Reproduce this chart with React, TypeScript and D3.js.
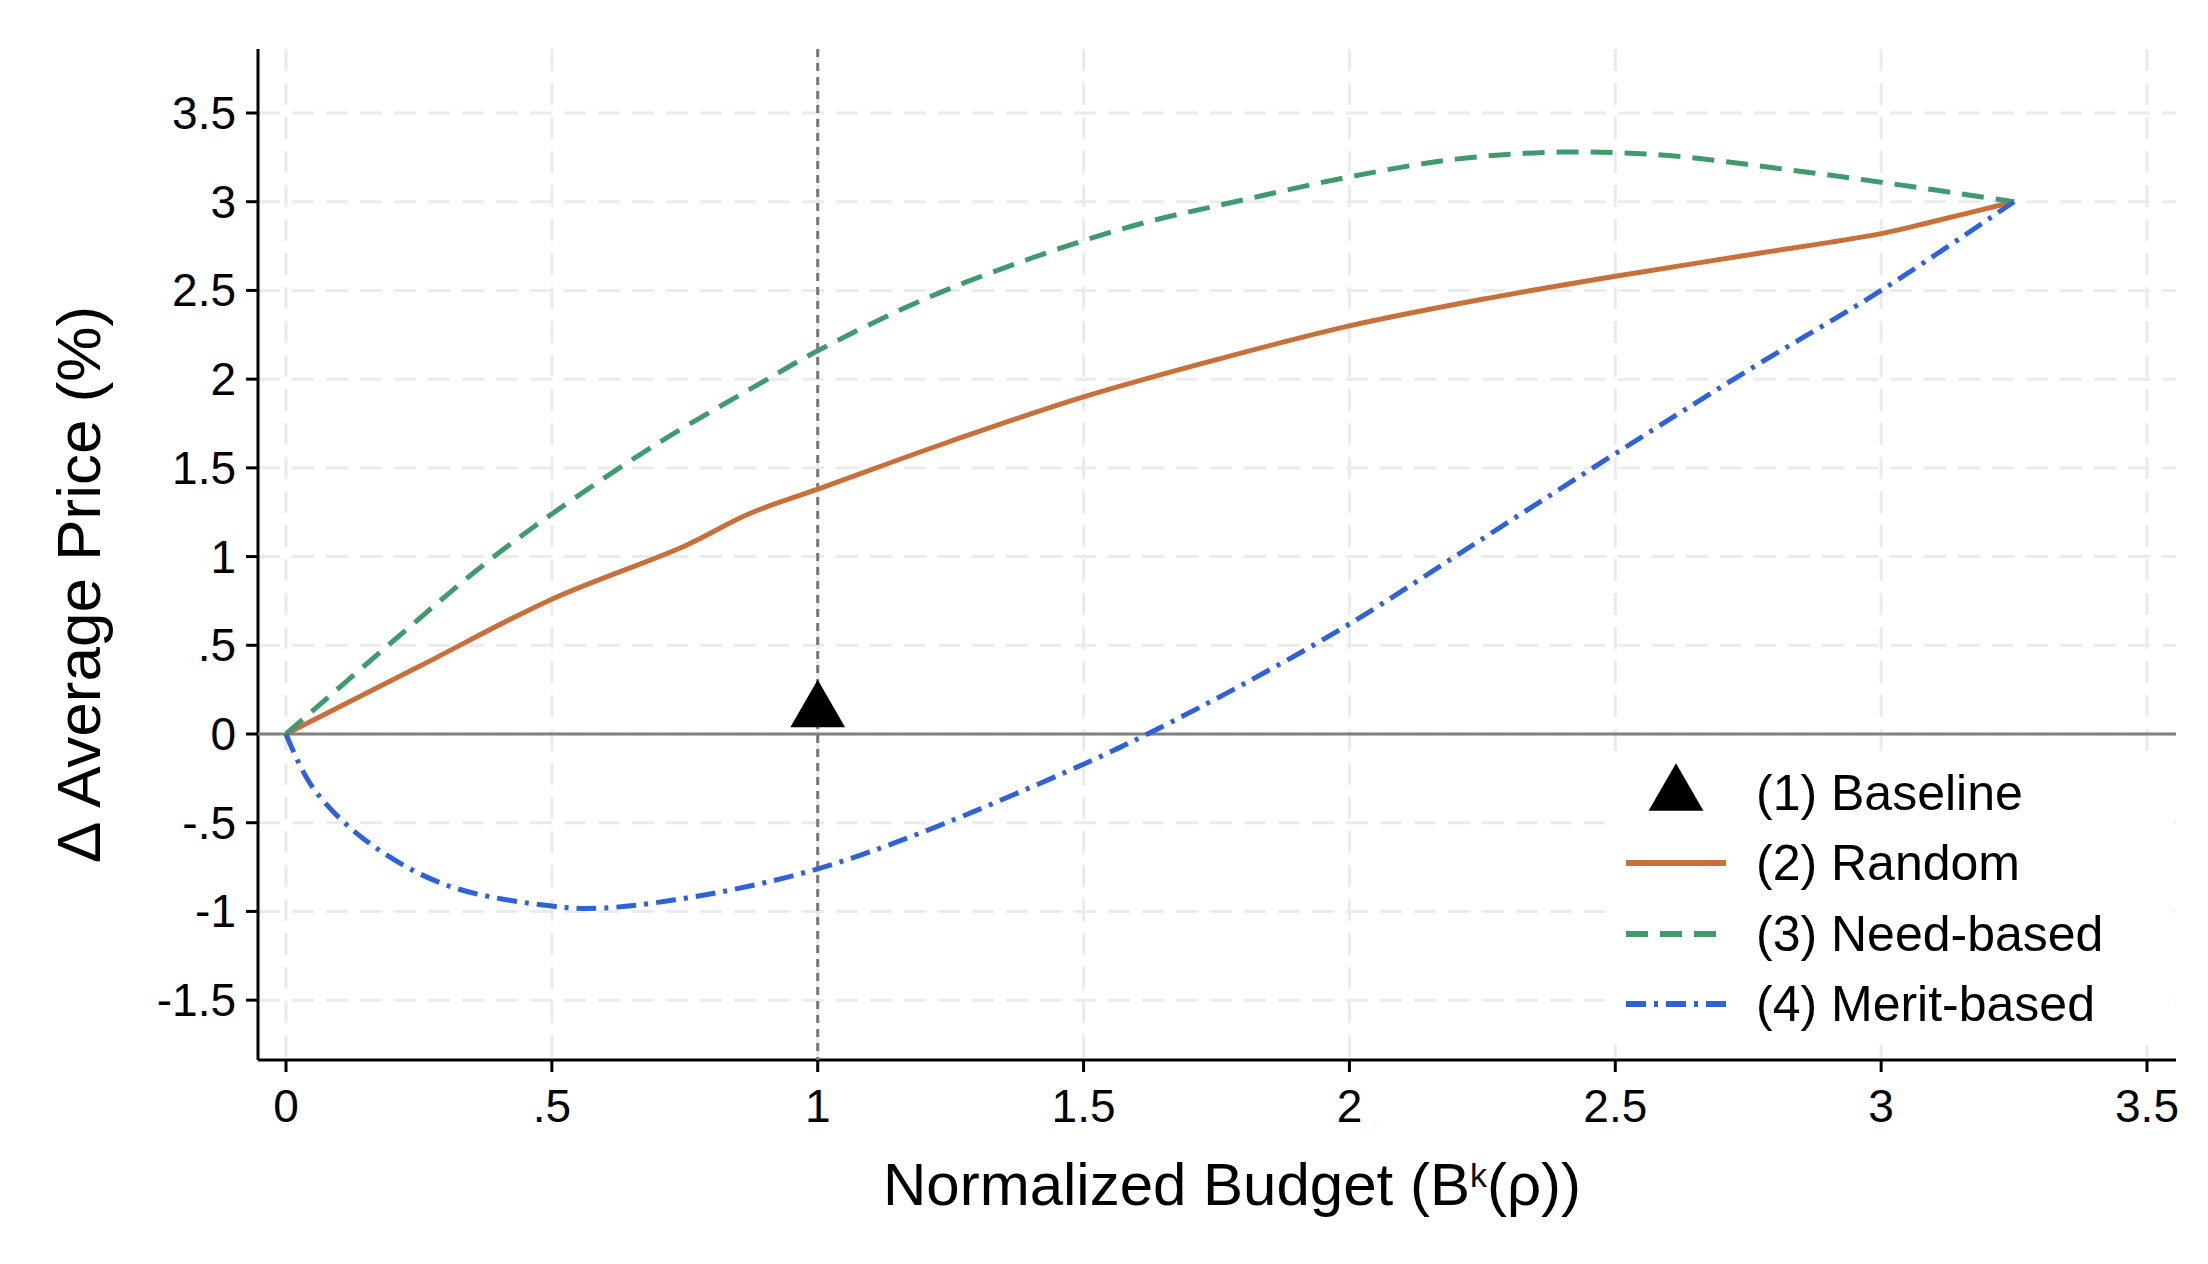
import React, { useRef, useEffect } from "react";
import * as d3 from "d3";

const randomX = [0, 0.25, 0.5, 0.75, 0.87, 1, 1.25, 1.5, 1.75, 2, 2.25, 2.5, 2.75, 3, 3.1, 3.25];
const randomY = [0, 0.38, 0.76, 1.06, 1.24, 1.38, 1.65, 1.9, 2.11, 2.3, 2.45, 2.58, 2.7, 2.82, 2.89, 3];
const needX = [0, 0.2, 0.37, 0.5, 0.7, 0.9, 1, 1.2, 1.4, 1.6, 1.8, 2, 2.2, 2.4, 2.6, 2.8, 3, 3.25];
const needY = [0, 0.52, 0.95, 1.24, 1.64, 1.99, 2.16, 2.45, 2.68, 2.87, 3.01, 3.14, 3.24, 3.28, 3.26, 3.19, 3.11, 3];
const meritX = [0, 0.05, 0.15, 0.3, 0.5, 0.6, 0.8, 1, 1.2, 1.5, 1.62, 1.8, 2, 2.25, 2.5, 2.75, 3, 3.25];
const meritY = [0, -0.3, -0.6, -0.85, -0.97, -0.98, -0.9, -0.76, -0.55, -0.17, 0, 0.28, 0.62, 1.1, 1.58, 2.05, 2.5, 3];
const baseline = { x: 1, y: 0.15 };
const xTicks = [0, 0.5, 1, 1.5, 2, 2.5, 3, 3.5];
const yTicks = [-1.5, -1, -0.5, 0, 0.5, 1, 1.5, 2, 2.5, 3, 3.5];
const legendLabels = ["(1) Baseline", "(2) Random", "(3) Need-based", "(4) Merit-based"];

const fmt = (v: number) => String(v).replace(/^(-?)0\./, "$1.");

export default function App() {
  const ref = useRef<SVGSVGElement | null>(null);

  useEffect(() => {
    const svg = d3.select(ref.current!);
    svg.selectAll("*").remove();
    const W = 2208, H = 1264;
    const font = "'Liberation Sans', Arial, sans-serif";

    const x = d3.scaleLinear().domain([0, 3.5]).range([286, 2147]);
    const y = d3.scaleLinear().domain([0, 3.5]).range([734, 113]);
    const left = 258, right = 2176, top = 49, bottom = 1060;

    svg.append("rect").attr("width", W).attr("height", H).attr("fill", "white");
    svg.append("line").attr("x1", 0).attr("x2", W).attr("y1", 1).attr("y2", 1).attr("stroke", "#ddd").attr("stroke-width", 2);

    // grid
    xTicks.forEach((t) => svg.append("line").attr("x1", x(t)).attr("x2", x(t)).attr("y1", top).attr("y2", bottom)
      .attr("stroke", "#ebebeb").attr("stroke-width", 3).attr("stroke-dasharray", "22,12"));
    yTicks.forEach((t) => svg.append("line").attr("x1", left).attr("x2", right).attr("y1", y(t)).attr("y2", y(t))
      .attr("stroke", "#ebebeb").attr("stroke-width", 3).attr("stroke-dasharray", "22,12"));

    // legend background hides grid
    svg.append("rect").attr("x", 1605).attr("y", 755).attr("width", 570).attr("height", 290).attr("fill", "white");

    // axes
    svg.append("line").attr("x1", left).attr("x2", left).attr("y1", top).attr("y2", bottom).attr("stroke", "black").attr("stroke-width", 3);
    svg.append("line").attr("x1", left).attr("x2", right).attr("y1", bottom).attr("y2", bottom).attr("stroke", "black").attr("stroke-width", 3);
    xTicks.forEach((t) => {
      svg.append("line").attr("x1", x(t)).attr("x2", x(t)).attr("y1", bottom).attr("y2", bottom + 12).attr("stroke", "black").attr("stroke-width", 3);
      svg.append("text").attr("x", x(t)).attr("y", bottom + 62).attr("text-anchor", "middle")
        .style("font-family", font).style("font-size", "46px").text(fmt(t));
    });
    yTicks.forEach((t) => {
      svg.append("line").attr("x1", left - 12).attr("x2", left).attr("y1", y(t)).attr("y2", y(t)).attr("stroke", "black").attr("stroke-width", 3);
      svg.append("text").attr("x", left - 22).attr("y", y(t) + 16).attr("text-anchor", "end")
        .style("font-family", font).style("font-size", "46px").text(fmt(t));
    });

    const xt = svg.append("text").attr("x", (left + right) / 2 + 15).attr("y", 1205).attr("text-anchor", "middle")
      .style("font-family", font).style("font-size", "60px");
    xt.append("tspan").text("Normalized Budget (B");
    xt.append("tspan").attr("dy", -18).style("font-size", "34px").text("k");
    xt.append("tspan").attr("dy", 18).text("(ρ))");

    svg.append("text").attr("transform", `translate(100,${(top + bottom) / 2 + 30}) rotate(-90)`).attr("text-anchor", "middle")
      .style("font-family", font).style("font-size", "62px").text("Δ Average Price (%)");

    // reference lines
    svg.append("line").attr("x1", left).attr("x2", right).attr("y1", y(0)).attr("y2", y(0)).attr("stroke", "#808080").attr("stroke-width", 3);
    svg.append("line").attr("x1", x(1)).attr("x2", x(1)).attr("y1", top).attr("y2", bottom).attr("stroke", "#777").attr("stroke-width", 3).attr("stroke-dasharray", "8,6");

    const line = d3.line<[number, number]>().x((d) => x(d[0])).y((d) => y(d[1])).curve(d3.curveCatmullRom.alpha(0.5));
    const series = [
      { xs: randomX, ys: randomY, color: "#c8703a", dash: null },
      { xs: needX, ys: needY, color: "#3f9a6e", dash: "22,12" },
      { xs: meritX, ys: meritY, color: "#2e62d6", dash: "20,8,4,8" },
    ];
    series.forEach((s) => {
      svg.append("path").attr("d", line(s.xs.map((v, i) => [v, s.ys[i]] as [number, number]))!)
        .attr("fill", "none").attr("stroke", s.color).attr("stroke-width", 5).attr("stroke-dasharray", s.dash);
    });

    const tri = d3.symbol().type(d3.symbolTriangle).size(1300);
    svg.append("path").attr("d", tri()!).attr("transform", `translate(${x(baseline.x)},${y(baseline.y) + 4})`).attr("fill", "black");

    // legend
    const ly = [793, 863, 934, 1004];
    legendLabels.forEach((lab, i) => {
      svg.append("text").attr("x", 1756).attr("y", ly[i] + 17).style("font-family", font).style("font-size", "50px").text(lab);
      if (i === 0) {
        svg.append("path").attr("d", tri()!).attr("transform", `translate(1676,${ly[i] + 2})`).attr("fill", "black");
      } else {
        const s = series[i - 1];
        svg.append("line").attr("x1", 1626).attr("x2", 1726).attr("y1", ly[i]).attr("y2", ly[i])
          .attr("stroke", s.color).attr("stroke-width", 6).attr("stroke-dasharray", s.dash);
      }
    });
  }, []);

  return <svg ref={ref} width={2208} height={1264} style={{ display: "block", margin: -8 }} />;
}
